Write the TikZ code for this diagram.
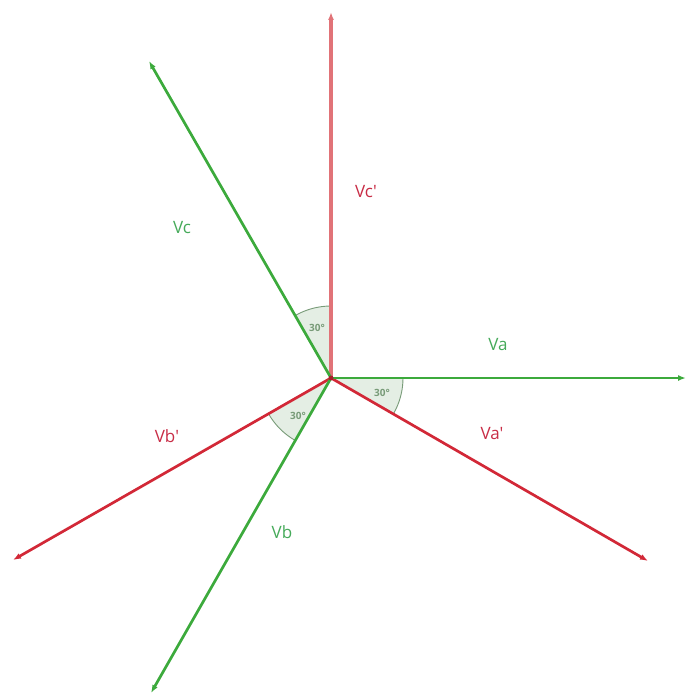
\documentclass[tikz,border=0pt]{standalone}
\usepackage{fontspec}
\setmainfont{Open Sans}
\usetikzlibrary{arrows.meta}
\definecolor{vgreen}{RGB}{60,170,60}
\definecolor{vred}{RGB}{210,40,55}
\definecolor{vredlight}{RGB}{225,115,120}
\definecolor{tgreen}{RGB}{70,170,90}
\definecolor{tred}{RGB}{200,45,70}
\definecolor{arcc}{RGB}{120,155,120}
\definecolor{arcfill}{RGB}{228,238,228}
\tikzset{
  vec/.style={line width=2.7pt,-{Latex[length=8pt,width=6pt]}},
  lbl/.style={font=\fontsize{17}{20}\selectfont},
  ang/.style={font=\fontsize{10}{11}\selectfont\bfseries,text=arcc},
  sector/.style={fill=arcfill,draw=none},
  arcline/.style={draw=arcc,line width=0.9pt}
}
\begin{document}
\begin{tikzpicture}[x=1pt,y=-1pt]
\useasboundingbox (0,0) rectangle (686,695);
\coordinate (O) at (331,378);
% sectors
\fill[sector] (O) -- ++(-120:72) arc[start angle=-120,end angle=-90,radius=72] -- cycle;
\fill[sector] (O) -- ++(0:72) arc[start angle=0,end angle=30,radius=72] -- cycle;
\fill[sector] (O) -- ++(150:72) arc[start angle=150,end angle=120,radius=72] -- cycle;
\draw[arcline] (O) ++(-120:72) arc[start angle=-120,end angle=-90,radius=72];
\draw[arcline] (O) ++(0:72) arc[start angle=0,end angle=30,radius=72];
\draw[arcline] (O) ++(150:72) arc[start angle=150,end angle=120,radius=72];
\node[ang] (a1) at (317,328) {30°};
\node[ang] (a2) at (382,393) {30°};
\node[ang] (a3) at (298,416) {30°};
% end points
\coordinate (Va) at (686,378);
\coordinate (Vap) at (648,561);
\coordinate (Vcp) at (331,12);
\coordinate (Vc) at (149,61);
\coordinate (Vbp) at (13,560);
\coordinate (Vb) at (151,693);
% vectors
\draw[vec,vredlight,line width=3.2pt] (O) -- (Vcp);
\draw[vec,vred] (O) -- (Vap);
\draw[vec,vred] (O) -- (Vbp);
\draw[vec,vgreen] (O) -- (Va);
\draw[vec,vgreen] (O) -- (Vc);
\draw[vec,vgreen] (O) -- (Vb);
\fill[vred!80!black] (O) circle (2.5pt);
% labels
\node[lbl,text=tred] (lVcp) at (366,192) {Vc\textquotesingle};
\node[lbl,text=tgreen] (lVc) at (182,228) {Vc};
\node[lbl,text=tgreen] (lVa) at (498,345) {Va};
\node[lbl,text=tred] (lVap) at (492,434) {Va\textquotesingle};
\node[lbl,text=tred] (lVbp) at (167,436) {Vb\textquotesingle};
\node[lbl,text=tgreen] (lVb) at (282,532) {Vb};
\end{tikzpicture}
\end{document}
